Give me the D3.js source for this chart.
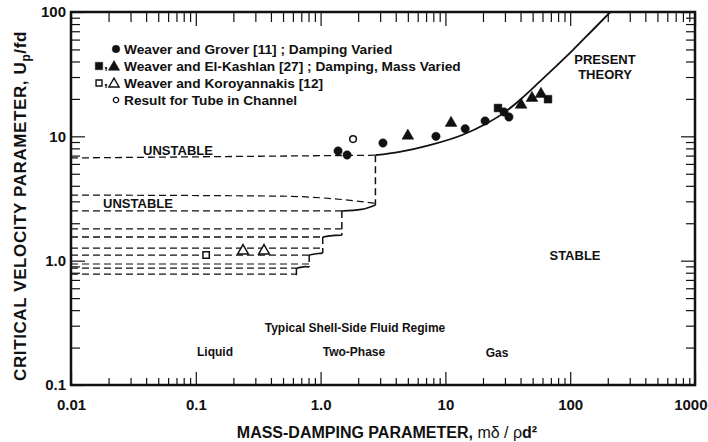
<!DOCTYPE html>
<html><head><meta charset="utf-8">
<script src="https://cdn.jsdelivr.net/npm/d3@7"></script>
<style>
body{margin:0;background:#fff}
svg{display:block}
text{font-family:"Liberation Sans",Arial,sans-serif;fill:#111}
</style>
</head><body><svg id="c" width="708" height="442"></svg>
<script>
// ---------- axis ticks ----------
const xMajor=[0.01,0.1,1,10,100,1000];
const xMajorLabels=["0.01","0.1","1.0","10","100","1000"];
const yMajor=[0.1,1,10,100];
const yMajorLabels=["0.1","1.0","10","100"];

// ---------- data ----------
// Weaver and Grover [11] - filled circles
const groverX=[1.38,1.63,3.16,8.4,14.4,20.8,29.5,32.3];
const groverY=[7.62,7.08,8.84,10.0,11.5,13.3,15.7,14.3];
// Weaver and El-Kashlan [27] - filled squares
const kashSqX=[26.4,66.4];
const kashSqY=[16.9,19.9];
// Weaver and El-Kashlan [27] - filled triangles
const kashTriX=[5.0,11.1,40.4,49.4,58.3];
const kashTriY=[10.1,12.8,17.9,20.3,21.9];
// Weaver and Koroyannakis [12] - open square / open triangles
const koroSqX=[0.121];
const koroSqY=[1.11];
const koroTriX=[0.239,0.352];
const koroTriY=[1.20,1.20];
// Result for Tube in Channel - open circle
const tubeX=[1.82];
const tubeY=[9.5];

// Present theory curve
const theoryX=[2.75,4.3,7.5,13.8,20.8,29,40,57,80,105,150,210];
const theoryY=[7.05,7.5,8.5,10.3,12.5,15.3,19.8,27.5,38,49.4,71,100];

// Unstable staircase
const stepX=[2.75,1.48,1.04,0.81,0.64];
const stepTop=[7.05,2.51,1.55,1.11,0.87];
const stepBottom=[2.81,1.60,1.15,0.89,0.74];
// top unstable boundary
const topLineX=[0.01,2.75];
const topLineY=[6.7,7.05];
// curved dashed boundary of second unstable region
const curveX=[0.01,0.5,1.5,2.7];
const curveY=[3.37,3.3,3.1,2.9];
// extra dashed levels
const extraY=[1.80,1.26,0.94,0.78];
const extraEnd=[1.48,1.04,0.81,0.64];

// ---------- chart ----------
const svg=d3.select("#c");
const x=d3.scaleLog().domain([0.01,1000]).range([71,695]);
const y=d3.scaleLog().domain([0.1,100]).range([385,12]);

function minors(lo,hi){const r=[];for(let d=lo;d<hi;d*=10){for(let k=2;k<=9;k++)r.push(+(d*k).toPrecision(3));}return r;}
const xMinor=minors(0.01,1000), yMinor=minors(0.1,100);

const ink="#111";
function styleAxis(g){g.select(".domain").remove();g.selectAll("line").attr("stroke",ink).attr("stroke-width",1.2);}

// bottom
svg.append("g").attr("transform","translate(0,385)")
 .call(d3.axisBottom(x).tickValues(xMinor).tickSize(-7).tickFormat("")).call(styleAxis);
const bx=svg.append("g").attr("transform","translate(0,385)")
 .call(d3.axisBottom(x).tickValues(xMajor).tickSize(-13).tickPadding(14).tickFormat((d,i)=>xMajorLabels[i]))
 .call(styleAxis);
bx.selectAll("text").attr("font-size",15).attr("font-weight","bold").attr("fill",ink);
bx.selectAll("text").filter(d=>d===1000).attr("text-anchor","end").attr("dx",12);
// top
svg.append("g").attr("transform","translate(0,12)")
 .call(d3.axisTop(x).tickValues(xMinor).tickSize(-10).tickFormat("")).call(styleAxis);
svg.append("g").attr("transform","translate(0,12)")
 .call(d3.axisTop(x).tickValues(xMajor).tickSize(-14).tickFormat("")).call(styleAxis);
// left
svg.append("g").attr("transform","translate(71,0)")
 .call(d3.axisLeft(y).tickValues(yMinor).tickSize(-9).tickFormat("")).call(styleAxis);
svg.append("g").attr("transform","translate(71,0)")
 .call(d3.axisLeft(y).tickValues(yMajor).tickSize(-14).tickPadding(5).tickFormat((d,i)=>yMajorLabels[i]))
 .call(styleAxis)
 .selectAll("text").attr("font-size",15).attr("font-weight","bold").attr("fill",ink);
// right
svg.append("g").attr("transform","translate(695,0)")
 .call(d3.axisRight(y).tickValues(yMinor).tickSize(-9).tickFormat("")).call(styleAxis);
svg.append("g").attr("transform","translate(695,0)")
 .call(d3.axisRight(y).tickValues(yMajor).tickSize(-14).tickFormat("")).call(styleAxis);

// frame
svg.append("rect").attr("x",x(0.01)).attr("y",y(100))
 .attr("width",x(1000)-x(0.01)).attr("height",y(0.1)-y(100))
 .attr("fill","none").attr("stroke",ink).attr("stroke-width",2.5);

// ---------- lines ----------
const dash="7,4";
const L=d3.line().x(d=>x(d[0])).y(d=>y(d[1]));
const plot=svg.append("g");
function pl(pts,dashed,w,curve){
  plot.append("path").attr("d",(curve?L.curve(curve):L.curve(d3.curveLinear))(pts))
   .attr("fill","none").attr("stroke",ink).attr("stroke-width",w||1.3)
   .attr("stroke-dasharray",dashed?dash:null);
}
pl(theoryX.map((v,i)=>[v,theoryY[i]]),false,1.8,d3.curveMonotoneX);
pl(topLineX.map((v,i)=>[v,topLineY[i]]),true);
pl(curveX.map((v,i)=>[v,curveY[i]]),true,1.2,d3.curveMonotoneX);
stepX.forEach((sx,i)=>{
  pl([[sx,stepTop[i]],[sx,stepBottom[i]]],true,1.5);
  if(i>0) pl([[0.01,stepTop[i]],[sx,stepTop[i]]],true);
  if(i<stepX.length-1){
    const nx=stepX[i+1], ny=stepTop[i+1];
    pl([[nx,ny],[Math.sqrt(nx*sx)*1.05,ny*1.03],[sx,stepBottom[i]]],false,1.6,d3.curveMonotoneX);
  }
});
extraY.forEach((ey,i)=>pl([[0.01,ey],[extraEnd[i],ey]],true,1.2));

// ---------- markers ----------
const mk=svg.append("g");
function markers(xs,ys,type,size,filled){
  xs.forEach((v,i)=>{
    mk.append("path").attr("d",d3.symbol().type(type).size(size)())
      .attr("transform",`translate(${x(v)},${y(ys[i])})`)
      .attr("fill",filled?ink:"#fff").attr("stroke",ink).attr("stroke-width",filled?0.5:1.5);
  });
}
markers(groverX,groverY,d3.symbolCircle,55,true);
markers(kashSqX,kashSqY,d3.symbolSquare,60,true);
markers(kashTriX,kashTriY,d3.symbolTriangle,60,true);
markers(koroSqX,koroSqY,d3.symbolSquare,40,false);
markers(koroTriX,koroTriY,d3.symbolTriangle,50,false);
markers(tubeX,tubeY,d3.symbolCircle,35,false);

// ---------- legend ----------
const lg=svg.append("g").attr("font-size",13.7).attr("font-weight","bold");
const legRows=[
 {t:"Weaver and Grover [11] ; Damping Varied",y:49},
 {t:"Weaver and El-Kashlan [27] ; Damping, Mass Varied",y:66},
 {t:"Weaver and Koroyannakis [12]",y:83},
 {t:"Result for Tube in Channel",y:100}
];
legRows.forEach(r=>lg.append("text").attr("x",124).attr("y",r.y).attr("dy","0.35em").text(r.t));
function lsym(px,py,type,size,filled){
  lg.append("path").attr("d",d3.symbol().type(type).size(size)()).attr("transform",`translate(${px},${py})`)
   .attr("fill",filled?ink:"#fff").attr("stroke",ink).attr("stroke-width",filled?0.5:1.4);
}
lsym(116,49,d3.symbolCircle,45,true);
lsym(99,66,d3.symbolSquare,55,true);
lg.append("text").attr("x",104).attr("y",69).text(",");
lsym(114,67,d3.symbolTriangle,55,true);
lsym(99,83,d3.symbolSquare,35,false);
lg.append("text").attr("x",104).attr("y",86).text(",");
lsym(114,84,d3.symbolTriangle,45,false);
lsym(116,100,d3.symbolCircle,22,false);

// ---------- annotations ----------
const ann=svg.append("g").attr("font-weight","bold").attr("text-anchor","middle");
ann.append("text").attr("x",178).attr("y",150).attr("dy","0.35em").attr("font-size",13).text("UNSTABLE");
ann.append("text").attr("x",138).attr("y",203).attr("dy","0.35em").attr("font-size",13).text("UNSTABLE");
ann.append("text").attr("x",605).attr("y",59).attr("dy","0.35em").attr("font-size",13).text("PRESENT");
ann.append("text").attr("x",605).attr("y",74).attr("dy","0.35em").attr("font-size",13).text("THEORY");
ann.append("text").attr("x",575).attr("y",255).attr("dy","0.35em").attr("font-size",13).text("STABLE");
ann.append("text").attr("x",355).attr("y",328).attr("dy","0.35em").attr("font-size",12).text("Typical Shell-Side Fluid Regime");
ann.append("text").attr("x",215).attr("y",352).attr("dy","0.35em").attr("font-size",12).text("Liquid");
ann.append("text").attr("x",354).attr("y",352).attr("dy","0.35em").attr("font-size",12).text("Two-Phase");
ann.append("text").attr("x",497).attr("y",353).attr("dy","0.35em").attr("font-size",12).text("Gas");

// ---------- axis titles ----------
const yt=svg.append("text").attr("transform","translate(26,206) rotate(-90)")
 .attr("text-anchor","middle").attr("font-size",17).attr("font-weight","bold").attr("letter-spacing",0.6);
yt.append("tspan").text("CRITICAL VELOCITY PARAMETER, U");
yt.append("tspan").attr("font-size",12).attr("dy",4).text("p");
yt.append("tspan").attr("dy",-4).text("/fd");

const xt=svg.append("text").attr("x",387).attr("y",438)
 .attr("text-anchor","middle").attr("font-size",16).attr("font-weight","bold");
xt.append("tspan").text("MASS-DAMPING PARAMETER, ");
xt.append("tspan").attr("font-weight","normal").text("m\u03B4 / \u03C1");
xt.append("tspan").text("d\u00B2");
</script>
</body></html>
